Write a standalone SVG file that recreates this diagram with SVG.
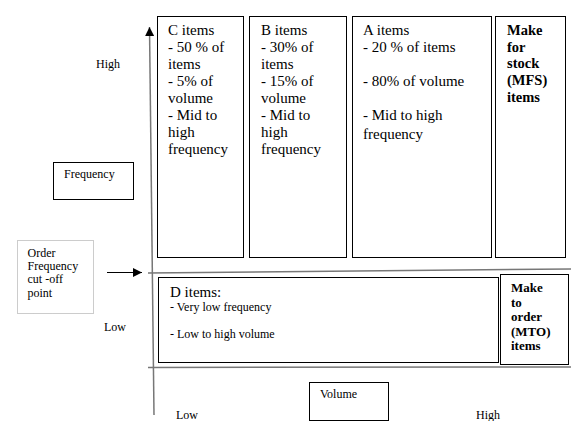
<svg xmlns="http://www.w3.org/2000/svg" width="571" height="421" viewBox="0 0 571 421">
<style>
.box{fill:#fff;stroke:#000;stroke-width:1}
.t{font-family:"Liberation Serif","Times New Roman",serif;font-size:15px;fill:#000}
.s{font-family:"Liberation Serif","Times New Roman",serif;font-size:12px;fill:#000}
.b{font-family:"Liberation Serif","Times New Roman",serif;font-size:14.5px;font-weight:bold;fill:#000}
.bm{font-family:"Liberation Serif","Times New Roman",serif;font-size:13px;font-weight:bold;fill:#000}
.ax{stroke:#777;stroke-width:1.5;fill:none}
</style>
<defs>
<marker id="ah" viewBox="0 0 10 10" refX="10" refY="5" markerWidth="9" markerHeight="9" markerUnits="userSpaceOnUse" orient="auto">
<path d="M0,0 L10,5 L0,10 z" fill="#000"/>
</marker>
</defs>
<rect width="571" height="421" fill="#fff"/>
<g id="connectors">
<line class="ax" x1="154" y1="415" x2="149.5" y2="27" marker-end="url(#ah)"/>
<line class="ax" x1="148" y1="273" x2="571" y2="269"/>
<line class="ax" x1="148" y1="367.5" x2="571" y2="367"/>
<line x1="107" y1="272.5" x2="142" y2="272.5" stroke="#000" stroke-width="1.2" marker-end="url(#ah)"/>
</g>
<g id="label-high-left"><text class="s" x="96" y="68">High</text></g>
<g id="label-low-left"><text class="s" x="104" y="331">Low</text></g>
<g id="label-low-bottom"><text class="s" x="176" y="419">Low</text></g>
<g id="label-high-bottom"><text class="s" x="476" y="419">High</text></g>
<g id="frequency">
<rect class="box" x="53.5" y="162.5" width="80" height="37"/>
<text class="s" x="64" y="178">Frequency</text>
</g>
<g id="cutoff">
<rect x="17.5" y="240.5" width="76" height="73" fill="#fff" stroke="#999" stroke-width="1" stroke-dasharray="1,1"/>
<text class="s" x="27.5" y="256.5">Order</text>
<text class="s" x="27.5" y="270">Frequency</text>
<text class="s" x="27.5" y="283">cut -off</text>
<text class="s" x="27.5" y="296.5">point</text>
</g>
<g id="c-items">
<rect class="box" x="157.5" y="16.5" width="86" height="241"/>
<text class="t" x="168" y="35">C items</text>
<text class="t" x="168" y="52">- 50 % of</text>
<text class="t" x="168" y="69">items</text>
<text class="t" x="168" y="86">- 5% of</text>
<text class="t" x="168" y="103">volume</text>
<text class="t" x="168" y="120">- Mid to</text>
<text class="t" x="168" y="137">high</text>
<text class="t" x="168" y="154">frequency</text>
</g>
<g id="b-items">
<rect class="box" x="249.5" y="16.5" width="97" height="241"/>
<text class="t" x="261" y="35">B items</text>
<text class="t" x="261" y="52">- 30% of</text>
<text class="t" x="261" y="69">items</text>
<text class="t" x="261" y="86">- 15% of</text>
<text class="t" x="261" y="103">volume</text>
<text class="t" x="261" y="120">- Mid to</text>
<text class="t" x="261" y="137">high</text>
<text class="t" x="261" y="154">frequency</text>
</g>
<g id="a-items">
<rect class="box" x="352.5" y="16.5" width="139" height="241"/>
<text class="t" x="363" y="35">A items</text>
<text class="t" x="363" y="52">- 20 % of items</text>
<text class="t" x="363" y="86">- 80% of volume</text>
<text class="t" x="363" y="120">- Mid to high</text>
<text class="t" x="363" y="139">frequency</text>
</g>
<g id="mfs">
<rect class="box" x="495.5" y="16.5" width="70" height="241"/>
<text class="b" x="507" y="35">Make</text>
<text class="b" x="507" y="51.5">for</text>
<text class="b" x="507" y="68">stock</text>
<text class="b" x="507" y="85">(MFS)</text>
<text class="b" x="507" y="101.5">items</text>
</g>
<g id="d-items">
<rect class="box" x="158.5" y="277.5" width="340" height="85"/>
<text class="t" x="170" y="297">D items:</text>
<text class="s" x="170" y="311">- Very low frequency</text>
<text class="s" x="170" y="337.5">- Low to high volume</text>
</g>
<g id="mto">
<rect class="box" x="500.5" y="274.5" width="68" height="90"/>
<text class="bm" x="511" y="292">Make</text>
<text class="bm" x="511" y="306.6">to</text>
<text class="bm" x="511" y="321.2">order</text>
<text class="bm" x="511" y="335.8">(MTO)</text>
<text class="bm" x="511" y="350.4">items</text>
</g>
<g id="volume">
<rect class="box" x="309.5" y="382.5" width="79" height="38"/>
<text class="s" x="320" y="398">Volume</text>
</g>
</svg>
